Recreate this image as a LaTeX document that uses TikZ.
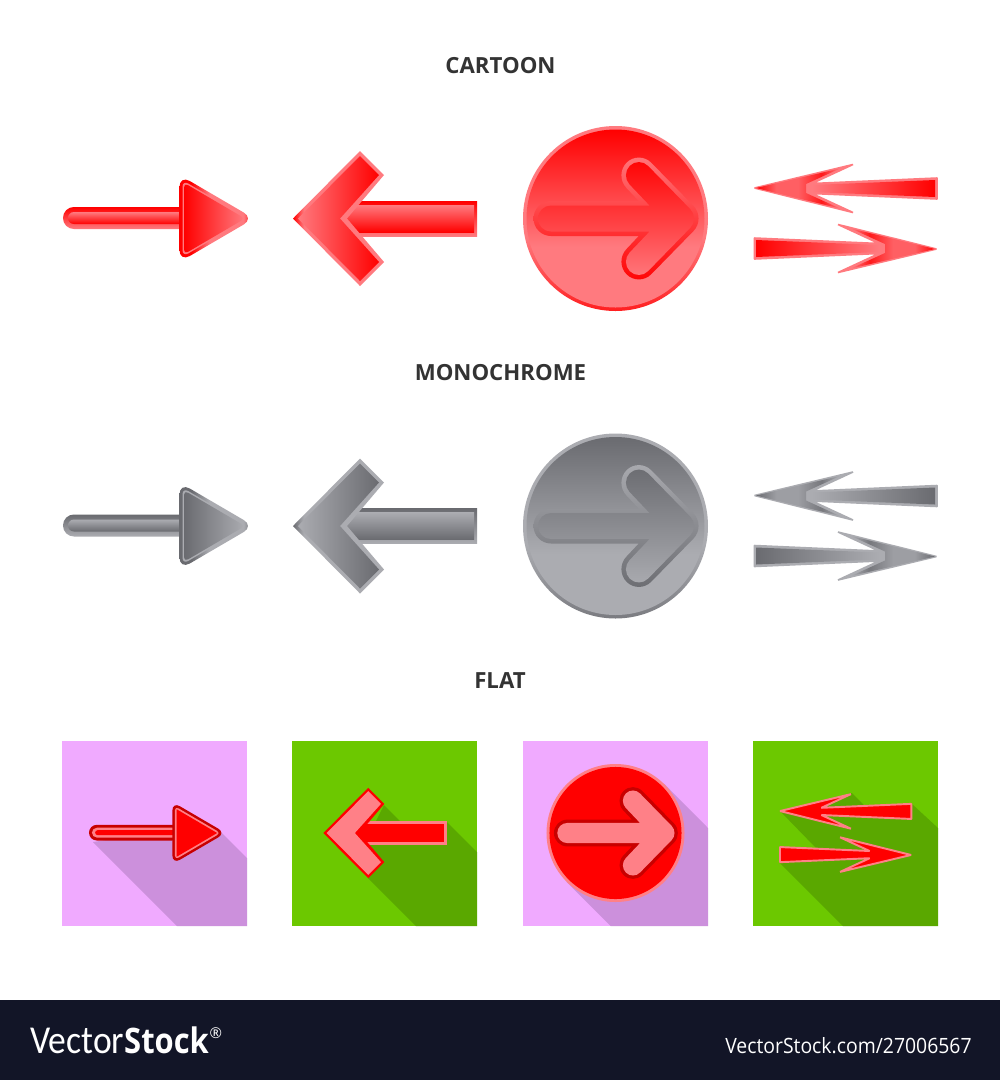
\documentclass[tikz,border=0pt]{standalone}
\usepackage{fontspec}
\setmainfont{Open Sans}
\newfontfamily\brandthin[FakeStretch=.9]{Carlito}
\newfontfamily\brandbold[FakeStretch=.88]{Open Sans}
\newfontfamily\refnum[FakeStretch=.92]{Open Sans}
\definecolor{dk}{HTML}{FF0000}
\definecolor{lt}{HTML}{FF7A7F}
\definecolor{ink}{HTML}{333333}
\definecolor{footerbg}{HTML}{121527}
\definecolor{pinkbg}{HTML}{F0AAFF}
\definecolor{pinksh}{HTML}{CC90DC}
\definecolor{greenbg}{HTML}{6CC800}
\definecolor{greensh}{HTML}{5AA800}
\definecolor{flatdk}{HTML}{C80000}
\definecolor{flatlt}{HTML}{FF8087}
\pgfdeclarehorizontalshading[dk,lt]{rimtip}{100bp}{color(0bp)=(dk);color(25bp)=(dk);color(31bp)=(lt);color(100bp)=(lt)}
\pgfdeclarehorizontalshading[dk,lt]{tririm}{100bp}{color(0bp)=(dk);color(25bp)=(dk);color(33bp)=(dk);color(45bp)=(lt);color(68bp)=(lt);color(75bp)=(dk);color(100bp)=(dk)}
\pgfdeclarehorizontalshading[dk,lt]{headL}{100bp}{color(0bp)=(dk);color(25bp)=(dk);color(37bp)=(dk!22!lt);color(50bp)=(dk!22!lt);color(64bp)=(dk!80!lt);color(75bp)=(lt);color(100bp)=(lt)}
\pgfdeclarehorizontalshading[dk,lt]{headR}{100bp}{color(0bp)=(lt);color(25bp)=(lt);color(36bp)=(dk!80!lt);color(50bp)=(dk!22!lt);color(63bp)=(dk!22!lt);color(75bp)=(dk);color(100bp)=(dk)}
\pgfdeclareverticalshading[dk,lt]{discfill}{100bp}{color(0bp)=(lt);color(25bp)=(lt);color(42bp)=(lt);color(75bp)=(dk);color(100bp)=(dk)}
\pgfdeclareverticalshading[dk,lt]{discrim}{100bp}{color(0bp)=(dk!75!lt);color(25bp)=(dk!75!lt);color(45bp)=(lt);color(75bp)=(lt);color(100bp)=(lt)}
\tikzset{
  x=0.02cm,y=-0.02cm,
  gradTD/.style={top color=dk,bottom color=lt},
  gradLT/.style={top color=lt,bottom color=dk},
  gradLR/.style={left color=dk,right color=lt},
  gradRL/.style={left color=lt,right color=dk},
  title/.style={text=ink,font=\bfseries\fontsize{12.65}{15}\selectfont,inner sep=0pt,anchor=base},
  foot/.style={text=white,inner sep=0pt,anchor=base west},
}
% -- geometry helpers (cartoon-row coordinates) ------------------------
\newcommand{\TriPath}[1]{% inset #1
  ({179.5+#1},{175+1.732*#1}) -- ({254-2*#1},218.5) -- ({179.5+#1},{262-1.732*#1}) -- cycle}
\newcommand{\ChevOuter}{(293,218.5) -- (360,151) -- (384,175) -- (347,218.5) -- (384,262) -- (360,286) -- cycle}
\newcommand{\ChevInner}{(298,218.5) -- (360,156) -- (379,175) -- (340,218.5) -- (379,262) -- (360,281) -- cycle}
% #1 half width in px, #2 corner radius
\newcommand{\BentArrow}[2]{%
  ({681-2.414*#1},{218.5-#1}) [rounded corners=#2]
  -- ({639-1.414*#1},175) -- (639,{175-1.414*#1}) -- ({681+1.414*#1},218.5)
  -- (639,{262+1.414*#1}) -- ({639-1.414*#1},262)
  [sharp corners] -- ({681-2.414*#1},{218.5+#1})
  [rounded corners=#2] -- ({551-#1},{218.5+#1}) -- ({551-#1},{218.5-#1})
  [sharp corners] -- cycle}
\newcommand{\BarbTop}{(754.5,188) -- (853,164.5) -- (812,183.5) -- (937,178) -- (937,199) -- (812,193.5) -- (853,212.5) -- cycle}
\newcommand{\BarbBot}{(936.5,249) -- (838,272.5) -- (879,253.5) -- (754.5,259) -- (754.5,238) -- (879,243.5) -- (838,224.5) -- cycle}
% -- shaded icons ------------------------------------------------------
\newcommand{\ShadedRow}{%
  % icon 1
  \path[gradTD,rounded corners=6.2pt] (63,207) rectangle (190,229);
  \path[gradLT,rounded corners=3.4pt] (68,212) rectangle (190,224);
  \path[shading=tririm,rounded corners=6.8pt] \TriPath{0};
  \fill[lt,rounded corners=3.8pt] \TriPath{3};
  \path[gradLR,rounded corners=2.6pt] \TriPath{4.5};
  % icon 2
  \path[gradTD] (345,201) rectangle (477,236);
  \path[gradLT] (345,205) rectangle (474,232);
  \path[shading=rimtip] \ChevOuter;
  \path[left color=lt,right color=dk] \ChevInner;
  % icon 3
  \path[shading=discrim] (615.5,218.5) circle[radius=92.5];
  \path[shading=discfill] (615.5,218.5) circle[radius=89];
  \path[gradLT] \BentArrow{17.5}{10pt};
  \path[gradTD] \BentArrow{13}{7.4pt};
  % icon 4
  \path[fill=lt,draw=lt,line width=.9pt,line join=bevel] \BarbTop;
  \path[shading=headL] (756,188) -- (840,168.5) -- (806,184) -- (806,193) -- (840,208.5) -- cycle;
  \path[gradRL] (812,185) -- (935,180) -- (935,197) -- (812,192) -- cycle;
  \path[fill=lt,draw=lt,line width=.9pt,line join=bevel] \BarbBot;
  \path[shading=headR] (935,249) -- (851,268.5) -- (885,253) -- (885,244) -- (851,228.5) -- cycle;
  \path[gradLR] (879,252) -- (756,257) -- (756,240) -- (879,245) -- cycle;
}
\begin{document}
\begin{tikzpicture}
\useasboundingbox (0,0) rectangle (1000,1080);
\fill[white] (0,0) rectangle (1000,1080);
\fill[footerbg] (0,1000) rectangle (1000,1080);

\node[title] (tcartoon) at (500.5,73) {CARTOON};
\node[title] (tmono) at (500.5,380.5) {MONOCHROME};
\node[title] (tflat) at (500,688.5) {FLAT};

\ShadedRow
\begin{scope}[shift={(0,307.5)}]
  \definecolor{dk}{HTML}{6A6B70}
  \definecolor{lt}{HTML}{ABACB1}
  \ShadedRow
\end{scope}

% flat squares
\fill[pinkbg] (62,741) rectangle (247,926);
\fill[greenbg] (292,741) rectangle (477,926);
\fill[pinkbg] (523,741) rectangle (708,926);
\fill[greenbg] (753,741) rectangle (938,926);
% long shadows
\fill[pinksh] (93,842) -- (177,926) -- (247,926) -- (247,858) -- (218,829) -- (180,829) -- cycle;
\fill[greensh] (368,878) -- (416,926) -- (477,926) -- (477,852) -- (447,822) -- (400,821) -- (384,805) -- (370,833) -- cycle;
\fill[pinksh] (566.7,882) -- (610.7,926) -- (708,926) -- (708,828) -- (664.3,784) -- cycle;
\fill[greensh] (852,793) -- (864,805) -- (912,804) -- (938,828) -- (938,926) -- (843,926) -- (779,862) -- (779,848) -- (816,848) -- (781,812) -- cycle;

% flat icon 1
\begin{scope}[shift={(154.5,833)},scale=.716,shift={(-154.5,-218.5)}]
  \fill[flatdk,rounded corners=4.5pt] (63,207) rectangle (190,229);
  \fill[flatlt,rounded corners=3pt] (67,211) rectangle (190,225);
  \fill[red,rounded corners=1.5pt] (71.5,214.5) rectangle (190,221.5);
  \fill[flatdk,rounded corners=4.9pt] \TriPath{0};
  \fill[flatlt,rounded corners=2.4pt] \TriPath{3.5};
  \fill[red] \TriPath{6};
\end{scope}
% flat icon 2
\begin{scope}[shift={(385,833)},scale=.67,shift={(-385,-218.5)}]
  \fill[flatlt] (345,201) rectangle (477,236);
  \fill[red] (345,204.5) rectangle (473.5,232.5);
  \fill[red] \ChevOuter;
  \fill[flatlt] \ChevInner;
\end{scope}
% flat icon 3
\begin{scope}[shift={(615.5,833)},scale=.746,shift={(-615.5,-218.5)}]
  \fill[flatlt] (615.5,218.5) circle[radius=92.5];
  \fill[red] (615.5,218.5) circle[radius=88.5];
  \fill[flatdk] \BentArrow{18}{7.6pt};
  \fill[flatlt] \BentArrow{13.5}{5.7pt};
\end{scope}
% flat icon 4
\begin{scope}[shift={(845.5,833)},scale=.72,shift={(-845.5,-218.5)}]
  \path[fill=red,draw=flatlt,line width=1.1pt,line join=bevel] \BarbTop;
  \path[fill=red,draw=flatlt,line width=1.1pt,line join=bevel] \BarbBot;
\end{scope}

% footer
\node[foot] (brand) at (30,1053) {\fontsize{22.5}{24}\brandthin Vector\fontsize{20}{24}\brandbold\bfseries Stock};
\node[foot,anchor=base west] (reg) at (brand.base east) {\raisebox{.85em}{\fontsize{8.5}{10}\selectfont ®}};
\node[foot,anchor=base east] (ref) at (972,1053) {\fontsize{12}{14}\refnum VectorStock.com/27006567};
\end{tikzpicture}
\end{document}
